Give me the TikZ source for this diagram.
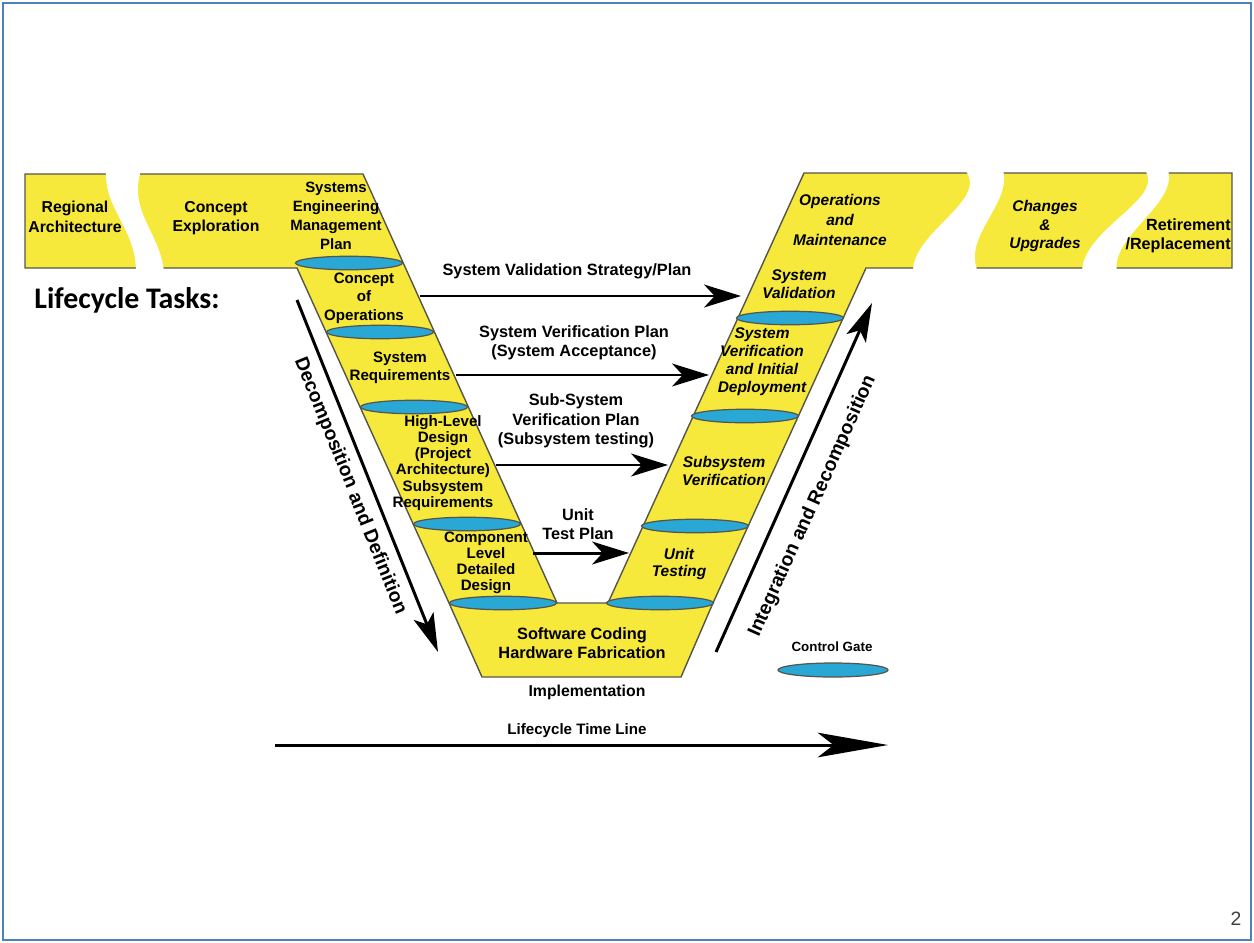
\documentclass[tikz,border=0pt]{standalone}
\usepackage{fontspec}
\setmainfont{Liberation Sans}
\newfontfamily\tasksfont{Carlito}
\usepackage{tikz}
\usetikzlibrary{arrows.meta,shapes.geometric}
\definecolor{vyellow}{HTML}{F6E93C}
\definecolor{gatecyan}{HTML}{29A8D6}
\definecolor{frameblue}{HTML}{4F81BD}
\definecolor{edgegray}{HTML}{55554A}

\begin{document}
\begin{tikzpicture}[
    x=0.02cm, y=-0.02cm,
    all/.style={inner sep=0pt, align=center, text=black},
    band/.style={all, font=\bfseries\fontsize{9}{11}\selectfont},
    arm/.style={all, font=\bfseries\fontsize{8.6}{10}\selectfont},
    back/.style={all, font=\bfseries\itshape\fontsize{8.8}{10.2}\selectfont},
    plan/.style={all, font=\bfseries\fontsize{9.3}{11}\selectfont},
    side/.style={all, font=\bfseries\fontsize{11}{13}\selectfont,
        text height=1.6ex, text depth=.4ex},
    gate/.style={ellipse, draw=edgegray, fill=gatecyan, line width=0.7pt,
        minimum width=2.14cm, minimum height=0.27cm, inner sep=0pt},
    flow/.style={line width=1.7pt, -{Stealth[length=21pt, width=13pt, inset=6pt]}},
    bigflow/.style={line width=1.7pt, -{Stealth[length=22pt, width=12pt, inset=5pt]}},
    gap/.style={fill=white, draw=none},
]
    \useasboundingbox (0,0) rectangle (1254,943);
    \draw[frameblue, line width=1.6pt] (3,3) rectangle (1251,940);

    \draw[fill=vyellow, draw=edgegray, line width=0.8pt]
        (25,174) -- (363,174) -- (557,603) -- (608,603) -- (804,173)
        -- (1232,173) -- (1232,268) -- (866,268) -- (713,603) -- (681,677)
        -- (482,677) -- (449,603) -- (297,268) -- (25,268) -- cycle;
    \path[gap] (106,170) .. controls (104,210) and (136,228) .. (136,272)
        -- (164,272) .. controls (160,232) and (128,212) .. (141,170) -- cycle;
    \path[gap] (965,170) .. controls (990,200) and (912,232) .. (913,272)
        -- (978,272) .. controls (962,236) and (1012,204) .. (1003,170) -- cycle;
    \path[gap] (1145,170) .. controls (1165,200) and (1083,228) .. (1082,272)
        -- (1117,272) .. controls (1110,236) and (1178,204) .. (1168,170) -- cycle;

    \node[gate] (gate1) at (349,263) {};
    \node[gate] (gate2) at (380,332) {};
    \node[gate] (gate3) at (414,407) {};
    \node[gate] (gate4) at (467,524) {};
    \node[gate] (gate5) at (503,603) {};
    \node[gate] (gate6) at (660,603) {};
    \node[gate] (gate7) at (695,526) {};
    \node[gate] (gate8) at (745,416) {};
    \node[gate] (gate9) at (790,318) {};

    \node[band] (regional) at (75,217) {Regional\\Architecture};
    \node[band] (concept) at (216,218) {Concept\\Exploration};
    \node[arm, font=\bfseries\fontsize{8.5}{10.8}\selectfont] (semp) at (336,216)
        {Systems\\Engineering\\Management\\Plan};
    \node[arm, font=\bfseries\fontsize{8.6}{10.6}\selectfont] (conops) at (364,298)
        {Concept\\of\\Operations};
    \node[arm] (sysreq) at (400,368) {System\\Requirements};
    \node[arm, font=\bfseries\fontsize{8.6}{9.2}\selectfont] (hld) at (443,463)
        {High-Level\\Design\\(Project\\Architecture)\\Subsystem\\Requirements};
    \node[arm, font=\bfseries\fontsize{8.6}{9.2}\selectfont] (cld) at (486,563)
        {Component\\Level\\Detailed\\Design};
    \node[band, font=\bfseries\fontsize{9.3}{11.2}\selectfont] (coding) at (582,643)
        {Software Coding\\Hardware Fabrication};
    \node[band] (impl) at (587,692) {Implementation};

    \node[back] (unit) at (679,564) {Unit\\Testing};
    \node[back] (subver) at (724,471) {Subsystem\\Verification};
    \node[back] (sysver) at (762,362) {System\\Verification\\and Initial\\Deployment};
    \node[back] (sysval) at (799,284) {System\\Validation};
    \node[back, font=\bfseries\itshape\fontsize{8.8}{11.2}\selectfont] (ops) at (840,220)
        {Operations\\and\\Maintenance};
    \node[back, font=\bfseries\itshape\fontsize{8.8}{10.5}\selectfont] (changes) at (1045,226)
        {Changes\\\&\\Upgrades};
    \node[band, align=right, anchor=east, font=\bfseries\fontsize{9.2}{10.5}\selectfont]
        (retire) at (1231,236) {Retirement\\/Replacement};

    \node[all, font=\tasksfont\bfseries\fontsize{17}{20}\selectfont] (tasks) at (127,300)
        {Lifecycle Tasks:};

    \node[plan] (valplan) at (567,271) {System Validation Strategy/Plan};
    \node[plan] (verplan) at (574,343) {System Verification Plan\\(System Acceptance)};
    \node[plan] (subplan) at (576,421) {Sub-System\\Verification Plan\\(Subsystem testing)};
    \node[plan] (unitplan) at (578,524) {Unit\\Test Plan};

    \coordinate (valA) at (420,296);
    \coordinate (valB) at (741,296);
    \coordinate (verA) at (456,375);
    \coordinate (verB) at (709,375);
    \coordinate (subA) at (496,465);
    \coordinate (subB) at (668,465);
    \coordinate (unitA) at (533,553);
    \coordinate (unitB) at (629,553);
    \draw[flow] (valA) -- (valB);
    \draw[flow] (verA) -- (verB);
    \draw[flow] (subA) -- (subB);
    \draw[flow] (unitA) -- (unitB);

    \coordinate (decA) at (297,300);
    \coordinate (decB) at (438,652);
    \draw[bigflow] (decA) -- (decB);
    \node[side, rotate=-68] (decomp1) at (326,423) {Decomposition};
    \node[side, rotate=-68] (decomp2) at (360,509) {and};
    \node[side, rotate=-68] (decomp3) at (385,572) {Definition};

    \coordinate (intA) at (716,652);
    \coordinate (intB) at (872,303);
    \draw[bigflow] (intA) -- (intB);
    \node[side, rotate=66] (integ1) at (774,590) {Integration};
    \node[side, rotate=66] (integ2) at (804,524) {and};
    \node[side, rotate=66] (integ3) at (842,440) {Recomposition};

    \node[all, font=\bfseries\fontsize{7.6}{9}\selectfont] (gatelbl) at (832,647) {Control Gate};
    \node[gate, minimum width=2.2cm, minimum height=0.28cm] (legend) at (833,670) {};

    \node[plan, font=\bfseries\fontsize{8.6}{10}\selectfont] (timelbl) at (577,731) {Lifecycle Time Line};
    \coordinate (timeA) at (275,745);
    \coordinate (timeB) at (888,745);
    \draw[line width=1.7pt, -{Stealth[length=40pt, width=14pt, inset=9pt]}] (timeA) -- (timeB);

    \node[all, text=black!75, font=\fontsize{11}{13}\selectfont] (page) at (1236,919) {2};
\end{tikzpicture}
\end{document}
